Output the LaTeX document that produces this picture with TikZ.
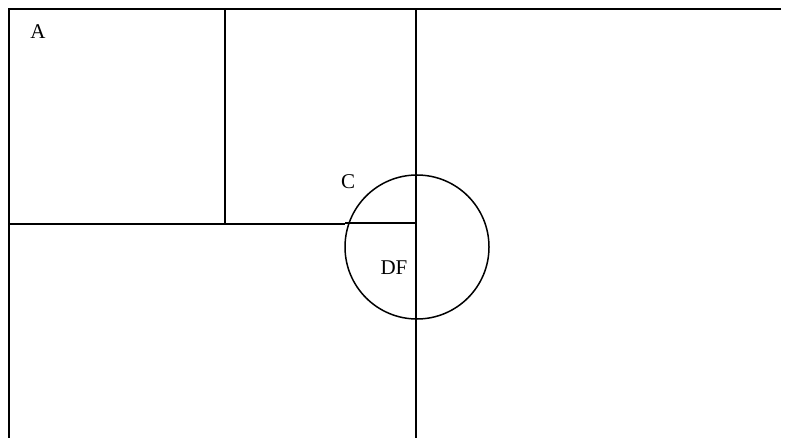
\documentclass[tikz,border=0pt]{standalone}
\usepackage{fontspec}
\setmainfont{Liberation Serif}
\usetikzlibrary{positioning}

\begin{document}
\begin{tikzpicture}[
    x=1pt, y=-1pt,
    wall/.style={line width=2pt},
    thinwall/.style={line width=1.5pt},
    lbl/.style={font=\fontsize{21}{25}\selectfont, inner sep=0pt}
]
\useasboundingbox (0,0) rectangle (791,438);

% corner points
\coordinate (tl) at (9,9);
\coordinate (tr) at (781,9);
\coordinate (bl) at (9,438);
\coordinate (m1) at (225,9);
\coordinate (m2) at (416,9);
\coordinate (m2b) at (416,438);
\coordinate (ml) at (9,224);
\coordinate (mm) at (225,224);
\coordinate (cw) at (345,224);
\coordinate (ce) at (416,223);
\coordinate (ctr) at (417,247);

% walls
\draw[wall] (tr) -- (tl) -- (bl);
\draw[wall] (m1) -- (mm);
\draw[wall] (m2) -- (m2b);
\draw[wall] (ml) -- (cw);
\draw[thinwall] (cw |- ce) -- (ce);
\draw[thinwall] (ctr) circle[radius=72];

% labels
\node[lbl] (a) at (38,32) {A};
\node[lbl] (c) at (348,182) {C};
\node[lbl] (df) at (394,268) {DF};

\end{tikzpicture}
\end{document}
